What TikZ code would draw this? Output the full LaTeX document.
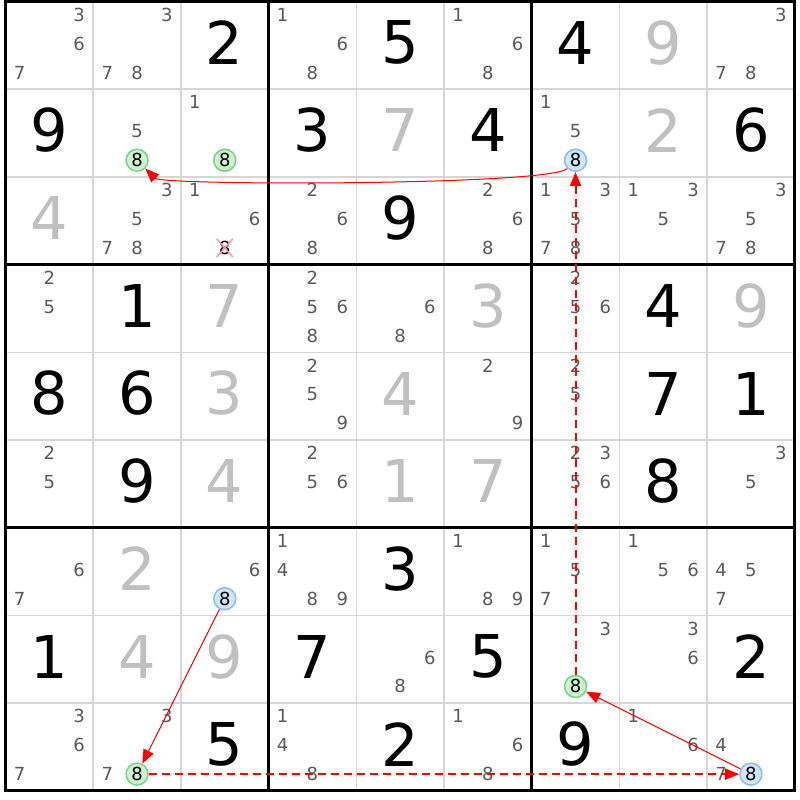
\documentclass[tikz,border=0pt]{standalone}
\usepackage{fontspec}
\setmainfont{DejaVu Sans}
\usetikzlibrary{arrows.meta}
\usetikzlibrary{shapes.misc}
\definecolor{givencol}{rgb}{0,0,0}
\definecolor{solvedcol}{RGB}{192,192,192}
\definecolor{candcol}{RGB}{90,90,90}
\definecolor{gridcol}{RGB}{214,214,214}
\definecolor{linkcol}{RGB}{255,0,0}
\definecolor{onfill}{RGB}{206,242,208}
\definecolor{ondraw}{RGB}{118,212,132}
\definecolor{offfill}{RGB}{208,230,252}
\definecolor{offdraw}{RGB}{138,190,246}
\definecolor{elimcol}{RGB}{246,150,162}

% cell (r,c) has its centre at (c-0.5,r-0.5), y runs down
\newcommand{\candpos}[3]{%
  \pgfmathsetmacro{\cx}{#2-0.5+(mod(#3-1,3)-1)*0.34}%
  \pgfmathsetmacro{\cy}{#1-0.52+(floor((#3-1)/3)-1)*0.33}}
\newcommand{\givenat}[3]{\node[bigdigit,givencol] (v#1#2) at (#2-0.5,#1-0.53) {#3};}
\newcommand{\solvedat}[3]{\node[bigdigit,solvedcol] (v#1#2) at (#2-0.5,#1-0.53) {#3};}
\newcommand{\candsat}[3]{\foreach \d in {#3} {\candpos{#1}{#2}{\d}\node[cand] (p#1#2\d) at (\cx,\cy) {\d};}}
\newcommand{\markat}[4]{\candpos{#1}{#2}{#3}\node[#4] (m#1#2) at (\cx,\cy) {#3};}

\begin{document}
\begin{tikzpicture}[
  x=87.7pt, y=-87.7pt,
  thinline/.style = {line width=1.5pt, color=gridcol},
  boxline/.style = {line width=3pt, color=black},
  bigdigit/.style = {font=\fontsize{59}{59}\selectfont, inner sep=0},
  cand/.style = {text=candcol, font=\fontsize{18}{18}\selectfont, inner sep=0},
  onmark/.style = {cand, text=black, circle, minimum size=22pt, line width=1.5pt, draw=ondraw, fill=onfill},
  offmark/.style = {cand, text=black, circle, minimum size=22pt, line width=1.5pt, draw=offdraw, fill=offfill},
  elimmark/.style = {cand, text=black, cross out, draw=elimcol, line width=1.5pt, inner sep=1.5pt},
  link/.style = {line width=1pt, color=linkcol, ->},
  weaklink/.style = {link, line width=2pt, dash pattern=on 8pt off 5pt},
  >={Triangle[length=14pt, width=11pt]},
]

  \useasboundingbox[fill=white] (-0.0627,-0.0171) rectangle (9.0593,9.105);

  % grid
  \foreach \i in {1,2,4,5,7,8} {
    \draw[thinline] (\i,0) -- (\i,9);
    \draw[thinline] (0,\i) -- (9,\i);
  }
  \foreach \i in {0,3,6,9} {
    \draw[boxline] (\i,-0.015) -- (\i,9.015);
    \draw[boxline] (-0.015,\i) -- (9.015,\i);
  }

  % row 1
  \candsat{1}{1}{3,6,7} \candsat{1}{2}{3,7,8} \givenat{1}{3}{2}
  \candsat{1}{4}{1,6,8} \givenat{1}{5}{5} \candsat{1}{6}{1,6,8}
  \givenat{1}{7}{4} \solvedat{1}{8}{9} \candsat{1}{9}{3,7,8}
  % row 2
  \givenat{2}{1}{9} \candsat{2}{2}{5} \markat{2}{2}{8}{onmark}
  \candsat{2}{3}{1} \markat{2}{3}{8}{onmark}
  \givenat{2}{4}{3} \solvedat{2}{5}{7} \givenat{2}{6}{4}
  \candsat{2}{7}{1,5} \markat{2}{7}{8}{offmark}
  \solvedat{2}{8}{2} \givenat{2}{9}{6}
  % row 3
  \solvedat{3}{1}{4} \candsat{3}{2}{3,5,7,8}
  \candsat{3}{3}{1,6} \markat{3}{3}{8}{elimmark}
  \candsat{3}{4}{2,6,8} \givenat{3}{5}{9} \candsat{3}{6}{2,6,8}
  \candsat{3}{7}{1,3,5,7,8} \candsat{3}{8}{1,3,5} \candsat{3}{9}{3,5,7,8}
  % row 4
  \candsat{4}{1}{2,5} \givenat{4}{2}{1} \solvedat{4}{3}{7}
  \candsat{4}{4}{2,5,6,8} \candsat{4}{5}{6,8} \solvedat{4}{6}{3}
  \candsat{4}{7}{2,5,6} \givenat{4}{8}{4} \solvedat{4}{9}{9}
  % row 5
  \givenat{5}{1}{8} \givenat{5}{2}{6} \solvedat{5}{3}{3}
  \candsat{5}{4}{2,5,9} \solvedat{5}{5}{4} \candsat{5}{6}{2,9}
  \candsat{5}{7}{2,5} \givenat{5}{8}{7} \givenat{5}{9}{1}
  % row 6
  \candsat{6}{1}{2,5} \givenat{6}{2}{9} \solvedat{6}{3}{4}
  \candsat{6}{4}{2,5,6} \solvedat{6}{5}{1} \solvedat{6}{6}{7}
  \candsat{6}{7}{2,3,5,6} \givenat{6}{8}{8} \candsat{6}{9}{3,5}
  % row 7
  \candsat{7}{1}{6,7} \solvedat{7}{2}{2}
  \candsat{7}{3}{6} \markat{7}{3}{8}{offmark}
  \candsat{7}{4}{1,4,8,9} \givenat{7}{5}{3} \candsat{7}{6}{1,8,9}
  \candsat{7}{7}{1,5,7} \candsat{7}{8}{1,5,6} \candsat{7}{9}{4,5,7}
  % row 8
  \givenat{8}{1}{1} \solvedat{8}{2}{4} \solvedat{8}{3}{9}
  \givenat{8}{4}{7} \candsat{8}{5}{6,8} \givenat{8}{6}{5}
  \candsat{8}{7}{3} \markat{8}{7}{8}{onmark}
  \candsat{8}{8}{3,6} \givenat{8}{9}{2}
  % row 9
  \candsat{9}{1}{3,6,7} \candsat{9}{2}{3,7} \markat{9}{2}{8}{onmark}
  \givenat{9}{3}{5} \candsat{9}{4}{1,4,8} \givenat{9}{5}{2}
  \candsat{9}{6}{1,6,8} \givenat{9}{7}{9} \candsat{9}{8}{1,6}
  \candsat{9}{9}{4,7} \markat{9}{9}{8}{offmark}

  % chain
  \draw[link] (m27) .. controls +(-0.29,0.29) and +(0.29,0.29) .. (m22);
  \draw[weaklink] (m87) -- (m27);
  \draw[link] (m99) -- (m87);
  \draw[weaklink] (m92) -- (m99);
  \draw[link] (m73) -- (m92);

\end{tikzpicture}
\end{document}
